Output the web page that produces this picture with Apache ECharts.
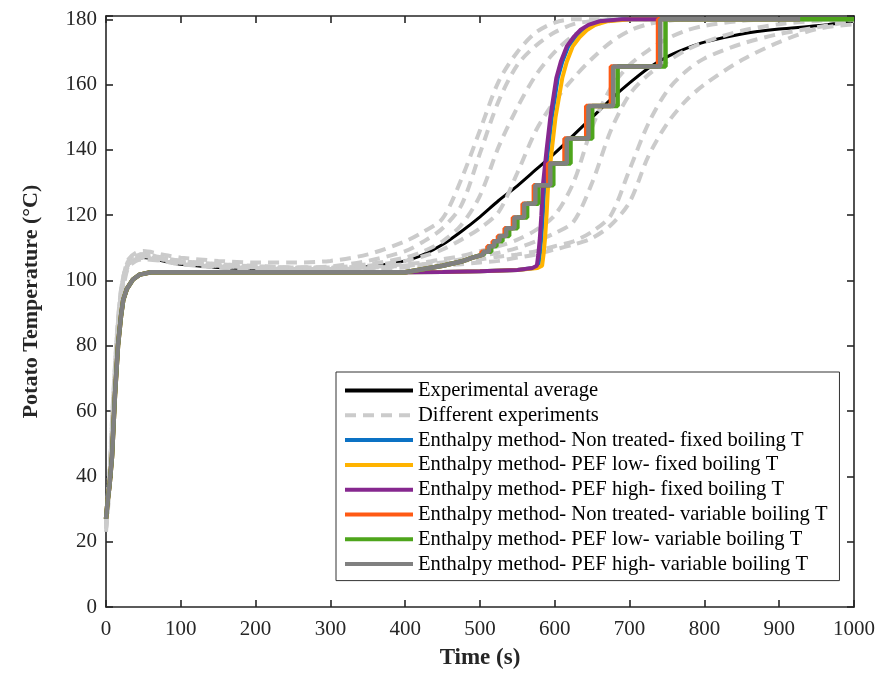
<!DOCTYPE html>
<html>
<head>
<meta charset="utf-8">
<title>Potato temperature</title>
<script src="https://cdn.jsdelivr.net/npm/echarts@6/dist/echarts.min.js"></script>
<style>
html,body{margin:0;padding:0;background:#fff;}
#chart{width:879px;height:675px;}
</style>
</head>
<body>
<div id="chart"></div>
<script>
// time grid of the measured curves (s)
var expTime = [0,3,6,10,15,20,25,30,40,50,75,100,150,200,250,300,350,400,425,450,475,500,525,550,575,600,625,650,675,700,725,750,775,800,850,900,950,1000];

// experimental average (black)
var avgTemp = [25,32,44,62,83,96,102,105,106.5,107,106,105,104,103.6,103.3,103.3,104.2,106,108,111,115,119.5,124.5,129,134,139,144.5,150,155.5,160.5,165,168.5,171,173,175.5,177,178,179.5];

// single experiments (grey dashed)
var exp1 = [24,32,44,62,84,97,103,106.5,108.5,109,108,107,106,105.5,105.5,106,108,112,115,119,131,146,161,170,176,179,180,180,180,180,180,180,180,180,180,180,180,180];
var exp2 = [26,34,46,64,83,96,102,105,107,107.5,106.5,105.5,104.8,104.3,104,104.3,106,109,112,116,123,139,155,166,172,176,178.5,179.5,180,180,180,180,180,180,180,180,180,180];
var exp3 = [28,36,48,66,85,97,103,106,108,108,107,106,105,104.5,104,104,105,107,109,112,117,126,141,153,163,170,175,178,179.5,180,180,180,180,180,180,180,180,180];
var exp4 = [25,33,45,63,83,96,102,105,106.5,107,106.5,105.5,104.5,104,103.8,103.8,104.5,106,107.5,109.5,112.5,116,121,133,146,155,162,168,173,176.5,178.5,179.5,180,180,180,180,180,180];
var exp5 = [27,35,47,65,84,96,102,105,107,107.5,106.5,105.5,104.5,104,103.5,103.5,104,105,105.5,106.5,107.5,109,110.5,112.5,115.5,120,130,147,159,166,170.5,174,176.5,178,179.5,180,180,180];
var exp6 = [24,32,43,61,81,94,101,104.5,106.5,107,106,105,104.3,103.8,103.5,103.5,103.8,104.5,105,105.5,106.5,107.5,108.5,110,112,114.5,118,130,146,157,163,167,170.5,173,176.5,178.5,179.5,180];
var exp7 = [26,34,46,64,84,96,102,105.5,107.5,108,107,106,105,104.3,104,104,104,104.5,105,105.3,106,106.5,107.3,108,109,110.5,112,115,120,134,148,158,164,168,172.5,175.5,177.5,179.5];
var exp8 = [23,31,42,60,80,93,100,104,106,106.5,106,105,104,103.6,103.4,103.4,103.6,104,104.3,104.6,105,105.5,106,107,108,109.5,111,113,117,124,138,148,155,160,167.5,173,177,178.5];
var experiments = [exp1, exp2, exp3, exp4, exp5, exp6, exp7, exp8];

// enthalpy method, common heating-up part
var modelStartX = [0,2,5,8,12,16,20,23,28,36,45,60,100,200,300,400];
var modelStartY = [27,32,38,46,65,80,89,94,97.5,100.3,101.8,102.5,102.5,102.5,102.5,102.5];

// fixed boiling T
var fixedY = [102.6,102.8,103.2,103.8,104.5,108,113,120,129,140,150,162,167,171.7,174.5,176.7,178.3,179.4,180,180];
var fixedNonX = [450,500,550,572,578,580,582,584,586,591,596,604,610,618,627,636,647,662,694,740];
var fixedLowX = [450,500,550,577,583,585,587,589,591,596,601,610,616,624,633,643,654,670,702,740];
var fixedHighX = [450,500,550,570,576,578,580,582,584,589,594,602,608,616,625,634,645,660,690,740];

// variable boiling T: smooth lead-in then stairs
var varLeadX = [450,475,490,505];
var varLeadY = [104.5,105.8,107,108];
var stepY = [108.8,110.5,112,113.6,116,119.3,123.5,129.2,135.8,143.5,153.4,165.5,180];
var stepNonX = [502,510,517,524,533,544,557,572,591,613,642,675,738];
var stepLowX = [507,515,522,530,539,550,563,578,598,621,650,684,748];
var stepHighX = [504,512,519,526,535,546,559,574,594,616,645,678,741];
var varEnd = [928, 1000, 928];

function pairs(xs, ys) {
  var out = [];
  for (var i = 0; i < xs.length; i++) out.push([xs[i], ys[i]]);
  return out;
}

function fixedCurve(xs) {
  return pairs(modelStartX, modelStartY).concat(pairs(xs, fixedY));
}

function stairCurve(xs, endX) {
  var d = pairs(modelStartX, modelStartY).concat(pairs(varLeadX, varLeadY));
  var prev = varLeadY[varLeadY.length - 1];
  for (var i = 0; i < xs.length; i++) {
    d.push([xs[i], prev]);
    d.push([xs[i], stepY[i]]);
    prev = stepY[i];
  }
  d.push([endX, prev]);
  return d;
}

var names = [
  'Experimental average',
  'Different experiments',
  'Enthalpy method- Non treated- fixed boiling T',
  'Enthalpy method- PEF low- fixed boiling T',
  'Enthalpy method- PEF high- fixed boiling T',
  'Enthalpy method- Non treated- variable boiling T',
  'Enthalpy method- PEF low- variable boiling T',
  'Enthalpy method- PEF high- variable boiling T'
];
var colors = ['#000000','#cbcbcb','#0c72c4','#ffb300','#86288f','#ff5a14','#4ea51c','#808080'];

var series = [];
series.push({
  name: names[0], type: 'line', symbol: 'none', smooth: 0.3,
  data: pairs(expTime, avgTemp),
  lineStyle: {color: colors[0], width: 3},
  itemStyle: {color: colors[0], opacity: 0}
});
experiments.forEach(function (e) {
  series.push({
    name: names[1], type: 'line', symbol: 'none', smooth: 0.3,
    data: pairs(expTime, e),
    lineStyle: {color: colors[1], width: 4, type: [11, 7]},
    itemStyle: {color: colors[1], opacity: 0}
  });
});
[fixedNonX, fixedLowX, fixedHighX].forEach(function (xs, i) {
  series.push({
    name: names[2 + i], type: 'line', symbol: 'none',
    data: fixedCurve(xs),
    lineStyle: {color: colors[2 + i], width: 4},
    itemStyle: {color: colors[2 + i], opacity: 0}
  });
});
[stepNonX, stepLowX, stepHighX].forEach(function (xs, i) {
  series.push({
    name: names[5 + i], type: 'line', symbol: 'none',
    data: stairCurve(xs, varEnd[i]),
    lineStyle: {color: colors[5 + i], width: 4.5},
    itemStyle: {color: colors[5 + i], opacity: 0}
  });
});

var axisCol = '#262626';
var font = 'Liberation Serif, Times New Roman, serif';

function xAx(pos, show) {
  return {
    type: 'value', position: pos, min: 0, max: 1000, interval: 100,
    name: show ? 'Time (s)' : '', nameLocation: 'middle', nameGap: 40,
    nameTextStyle: {fontFamily: font, fontWeight: 'bold', fontSize: 23, color: axisCol},
    axisLine: {show: true, onZero: false, lineStyle: {color: axisCol, width: 1.6}},
    axisTick: {show: true, inside: true, length: 7, lineStyle: {color: axisCol, width: 1.6}},
    axisLabel: {show: show, fontFamily: font, fontSize: 21, color: axisCol, margin: 12,
      formatter: function (v) { return String(v); }},
    splitLine: {show: false}
  };
}
function yAx(pos, show) {
  return {
    type: 'value', position: pos, min: 0, max: 181, interval: 20,
    name: show ? 'Potato Temperature (°C)' : '', nameLocation: 'middle', nameGap: 64, nameRotate: 90,
    nameTextStyle: {fontFamily: font, fontWeight: 'bold', fontSize: 22, color: axisCol, padding: [0, 0, 0, 20]},
    axisLine: {show: true, onZero: false, lineStyle: {color: axisCol, width: 1.6}},
    axisTick: {show: true, inside: true, length: 7, lineStyle: {color: axisCol, width: 1.6}},
    axisLabel: {show: show, fontFamily: font, fontSize: 21, color: axisCol, margin: 9,
      formatter: function (v) { return v <= 180 ? String(v) : ''; }},
    splitLine: {show: false}
  };
}

var chart = echarts.init(document.getElementById('chart'));
chart.setOption({
  animation: false,
  backgroundColor: '#fff',
  grid: {left: 106, right: 25, top: 16, bottom: 68, containLabel: false},
  xAxis: [xAx('bottom', true), xAx('top', false)],
  yAxis: [yAx('left', true), yAx('right', false)],
  legend: {
    data: names,
    orient: 'vertical',
    left: 336, top: 372,
    padding: [8, 12, 6, 7],
    itemWidth: 68, itemHeight: 20, itemGap: 3.8,
    backgroundColor: '#fff',
    borderColor: '#333', borderWidth: 1, borderRadius: 0,
    itemStyle: {opacity: 0},
    lineStyle: {width: 4},
    textStyle: {fontFamily: font, fontSize: 20.6, color: '#000', lineHeight: 20}
  },
  series: series
});
</script>
</body>
</html>
